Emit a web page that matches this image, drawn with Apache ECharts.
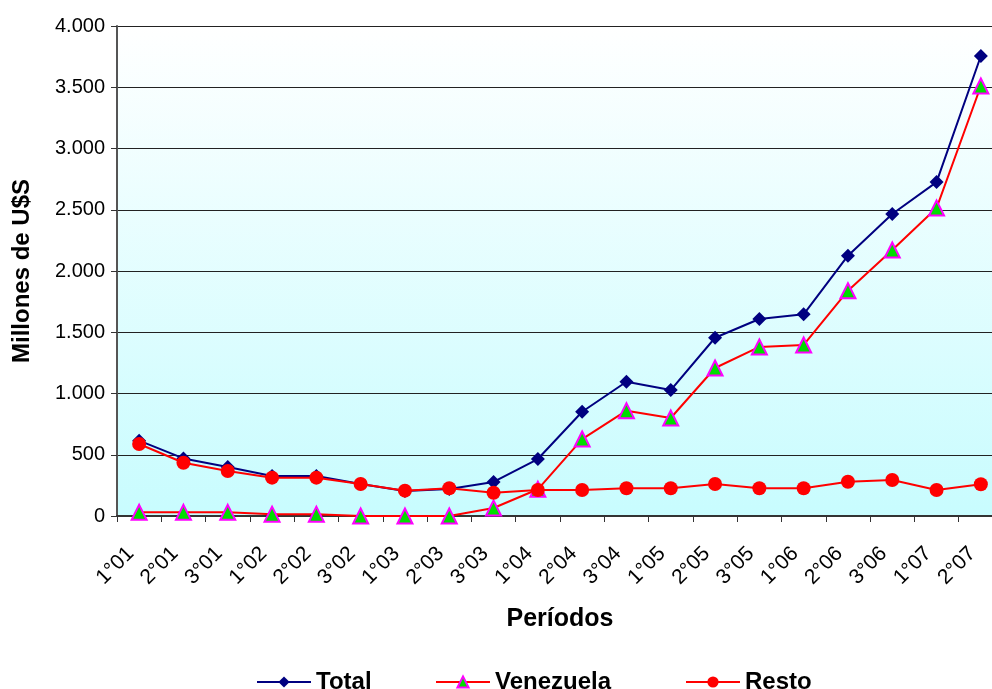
<!DOCTYPE html>
<html>
<head>
<meta charset="utf-8">
<script src="https://cdn.jsdelivr.net/npm/echarts@6/dist/echarts.min.js"></script>
<style>html,body{margin:0;padding:0;background:#fff}#c{width:992px;height:689px}</style>
</head>
<body>
<div id="c"></div>
<script>
const categories = ['1°01','2°01','3°01','1°02','2°02','3°02','1°03','2°03','3°03','1°04','2°04','3°04','1°05','2°05','3°05','1°06','2°06','3°06','1°07','2°07'];
const total = [615, 470, 400, 327, 327, 262, 205, 220, 278, 465, 851, 1096, 1028, 1455, 1608, 1646, 2125, 2465, 2726, 3755];
const venezuela = [30, 30, 30, 15, 15, 0, 0, 0, 65, 218, 628, 860, 800, 1208, 1380, 1396, 1839, 2171, 2514, 3510];
const resto = [588, 435, 367, 313, 313, 261, 207, 226, 190, 212, 212, 226, 226, 261, 226, 226, 280, 294, 212, 259];
const seriesNames = ['Total', 'Venezuela', 'Resto'];
const yTicks = {min: 0, max: 4000, interval: 500};

const chart = echarts.init(document.getElementById('c'));
const fmt = v => v >= 1000 ? Math.floor(v/1000) + '.' + String(v%1000).padStart(3,'0') : String(v);
const legendLefts = [251, 430, 680];
const legends = seriesNames.map((n, i) => ({
  left: legendLefts[i], top: 665, itemWidth: 54, itemHeight: 14,
  textStyle: {fontSize: 24, fontWeight: 'bold', color: '#000'},
  data: [n]
}));
chart.setOption({
  animation: false,
  textStyle: {fontFamily: 'Liberation Sans, Arial, sans-serif'},
  grid: {
    left: 117, top: 26, width: 886, height: 490,
    outerBoundsMode: 'none', containLabel: false,
    show: true, borderWidth: 0,
    backgroundColor: {type: 'linear', x: 0, y: 0, x2: 0, y2: 1,
      colorStops: [{offset: 0, color: '#ffffff'}, {offset: 1, color: '#c8fcfe'}]}
  },
  legend: legends,
  xAxis: {
    type: 'category', data: categories, boundaryGap: true,
    name: 'Períodos', nameLocation: 'middle', nameGap: 91,
    nameTextStyle: {fontSize: 25, fontWeight: 'bold', color: '#000'},
    axisLine: {lineStyle: {color: '#333', width: 2}},
    axisTick: {show: true, length: 6, lineStyle: {color: '#333'}},
    axisLabel: {rotate: 45, fontSize: 21, color: '#000', margin: 26, interval: 0, padding: [0, 12, 0, 0]}
  },
  yAxis: {
    type: 'value', min: yTicks.min, max: yTicks.max, interval: yTicks.interval,
    name: 'Millones de U$S', nameLocation: 'middle', nameGap: 83,
    nameTextStyle: {fontSize: 24, fontWeight: 'bold', color: '#000'},
    axisLine: {show: true, lineStyle: {color: '#555', width: 2}},
    axisTick: {show: true, length: 6, lineStyle: {color: '#333'}},
    axisLabel: {fontSize: 20, color: '#000', margin: 12, formatter: fmt},
    splitLine: {lineStyle: {color: '#222', width: 1}}
  },
  series: [
    {name: seriesNames[0], type: 'line', data: total, symbol: 'diamond', symbolSize: 14,
     lineStyle: {color: '#000080', width: 2}, itemStyle: {color: '#000080'}, z: 3},
    {name: seriesNames[1], type: 'line', data: venezuela, symbol: 'triangle', symbolSize: 15,
     lineStyle: {color: '#ff0000', width: 2},
     itemStyle: {color: '#00dd00', borderColor: '#ff00ff', borderWidth: 2}, z: 4},
    {name: seriesNames[2], type: 'line', data: resto, symbol: 'circle', symbolSize: 14,
     lineStyle: {color: '#ff0000', width: 2}, itemStyle: {color: '#ff0000'}, z: 5}
  ]
});
</script>
</body>
</html>
